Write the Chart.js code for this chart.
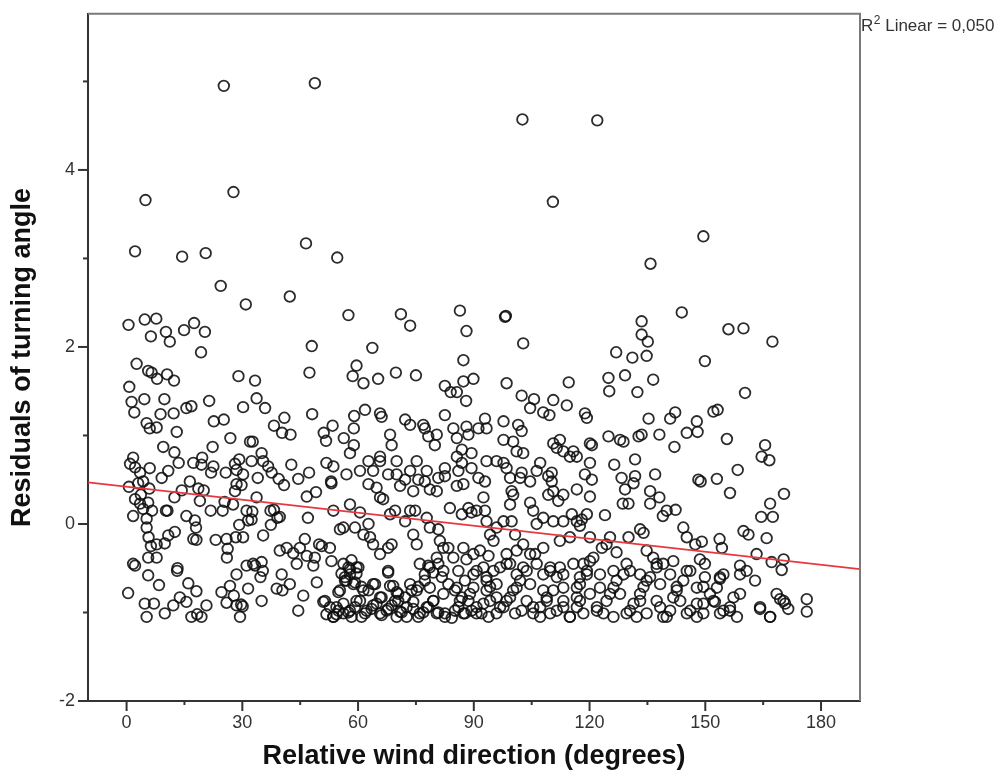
<!DOCTYPE html>
<html><head><meta charset="utf-8">
<script src="https://cdn.jsdelivr.net/npm/chart.js@4.4.1/dist/chart.umd.min.js"></script>
<style>html,body{margin:0;padding:0;background:#fff;}#wrap{width:1000px;height:778px;}</style>
</head><body><div id="wrap"><canvas id="c" width="1000" height="778"></canvas></div>
<script>
const xTickLabels = ['0','30','60','90','120','150','180'];
const yTickLabels = ['-2','0','2','4'];
const xAxisTitle = 'Relative wind direction (degrees)';
const yAxisTitle = 'Residuals of turning angle';
const fitLabelParts = ['R', '2', ' Linear = 0,050'];
const fitX = [-10, 190.1];
const fitY = [0.47, -0.51];

const outliers = [[25.2,4.95],[48.8,4.98],[4.9,3.66],[27.7,3.75],[2.2,3.08],[14.4,3.02],[20.5,3.06],[46.5,3.17],[54.6,3.01],[24.4,2.69],[42.3,2.57],[30.9,2.48],[102.6,4.57],[122.0,4.56],[110.5,3.64],[149.5,3.25],[135.8,2.94]];

const groupA = [[0.5,2.25],[4.7,2.31],[7.7,2.32],[6.3,2.12],[10.2,2.17],[11.2,2.06],[14.9,2.19],[17.5,2.27],[20.3,2.17],[19.3,1.94],[48.0,2.01],[47.4,1.71],
[2.6,1.81],[5.6,1.73],[6.5,1.71],[7.9,1.64],[10.5,1.69],[12.3,1.62],[0.7,1.55],[1.3,1.38],[4.6,1.41],[2.0,1.26],[9.8,1.41],[8.8,1.24],[12.2,1.25],[5.2,1.14],[6.0,1.08],[7.8,1.09],[13.0,1.04],[15.5,1.31],[16.8,1.33],[21.4,1.39],[22.6,1.16],[25.2,1.18],[29.0,1.67],[33.3,1.62],[33.7,1.42],[30.2,1.32],[35.9,1.31],[38.2,1.11],[40.9,1.20],[40.3,1.03],[42.5,1.01],[48.1,1.24],[51.1,1.03],[51.7,0.94],[53.4,1.11],[26.9,0.97],[32.0,0.93],[32.7,0.93],[22.3,0.87],[9.5,0.87],[12.4,0.81],[13.5,0.69],[1.7,0.75],[0.9,0.68],[2.2,0.64],[3.5,0.58],[6.0,0.63],[9.1,0.52],[10.8,0.60],[17.3,0.69],[19.6,0.75],[19.4,0.67],[21.9,0.58],[22.5,0.65],[25.7,0.58],[28.1,0.68],[28.5,0.61],[29.2,0.73],[30.2,0.56],[32.4,0.71],[35.0,0.80],[35.4,0.71],[34.0,0.52],[36.7,0.65],[37.6,0.58],[39.4,0.51],[40.8,0.44],[42.7,0.67],[44.5,0.51],[47.3,0.58],[51.8,0.69],[53.0,0.48],[53.1,0.46],
[0.6,0.42],[3.0,0.46],[4.3,0.48],[5.9,0.40],[3.7,0.33],[2.2,0.28],[3.5,0.23],[5.6,0.24],[1.7,0.09],[6.6,0.15],[4.3,0.17],[5.2,0.06],[5.2,-0.04],[5.7,-0.15],[6.3,-0.25],[7.8,-0.23],[9.9,-0.22],[10.8,-0.13],[12.5,-0.09],[7.8,-0.38],[5.6,-0.38],
[12.4,0.30],[14.3,0.38],[16.4,0.48],[18.6,0.40],[20.0,0.38],[19.0,0.26],[15.5,0.09],[17.7,0.04],[18.0,-0.04],[17.3,-0.17],[18.1,-0.18],[10.2,0.15],[10.6,0.15],[21.8,0.15],[24.9,0.15],[25.4,0.25],[27.6,0.22],[28.1,0.37],[28.5,0.45],[29.8,0.44],[31.1,0.15],[32.6,0.14],[31.5,0.04],[29.2,-0.01],[28.3,-0.15],[30.2,-0.15],[25.9,-0.17],[26.2,-0.28],[23.1,-0.18],[26.0,-0.38],[32.4,0.05],[35.4,-0.13],[37.4,-0.01],[38.2,0.16],[39.1,0.07],[39.7,0.08],[33.7,0.30],[37.3,0.15],[46.7,0.31],[49.1,0.36],[47.0,0.07],[53.6,0.15],[55.3,-0.06],
[1.7,-0.45],[2.2,-0.47],[5.6,-0.58],[8.4,-0.69],[13.2,-0.50],[13.1,-0.53],[0.4,-0.78],[4.7,-0.90],[7.1,-0.90],[5.2,-1.05],[9.9,-1.01],[12.1,-0.92],[13.8,-0.83],[15.5,-0.88],[16.0,-0.67],[18.1,-0.76],[18.3,-1.02],[19.4,-1.05],[16.8,-1.05],[20.7,-0.92],[24.6,-0.77],[26.8,-0.70],[27.8,-0.81],[25.9,-0.89],[28.5,-0.92],[29.7,-0.91],[29.4,-1.05],[30.1,-0.93],[28.5,-0.57],[31.1,-0.47],[32.8,-0.45],[33.3,-0.47],[35.0,-0.43],[35.3,-0.53],[34.7,-0.60],[35.0,-0.87],[31.5,-0.73],[38.9,-0.73],[40.4,-0.75],[42.3,-0.68],[40.2,-0.57],[39.7,-0.30],[41.5,-0.27],[43.2,-0.33],[44.9,-0.27],[46.2,-0.17],[44.1,-0.45],[46.7,-0.36],[48.4,-0.47],[48.8,-0.38],[49.3,-0.66],[49.9,-0.23],[50.6,-0.25],[52.7,-0.27],[53.1,-0.42],[45.8,-0.81],[44.5,-0.98],[51.0,-0.88],[51.8,-1.02],[53.6,-1.05],[54.4,-1.02],[54.9,-0.77]];

const groupB = [[57.5,2.36],[71.1,2.37],[73.5,2.24],[86.4,2.41],[88.1,2.18],[98.1,2.34],[98.3,2.35],[102.8,2.04],[63.7,1.99],[87.3,1.85],[59.6,1.79],[58.6,1.67],[61.4,1.59],[65.2,1.64],[69.8,1.71],[75.0,1.68],[82.5,1.56],[84.0,1.49],[85.6,1.49],[87.3,1.61],[89.9,1.64],[88.0,1.39],[98.5,1.59],[102.4,1.45],[105.6,1.41],[104.6,1.31],[108.0,1.26],[109.6,1.23],[110.6,1.40],[114.1,1.34],[114.6,1.60],
[59.0,1.22],[61.8,1.29],[65.7,1.25],[66.1,1.21],[58.9,1.08],[58.9,0.89],[57.9,0.80],[56.3,0.97],[72.2,1.18],[73.5,1.12],[76.9,1.12],[77.3,1.08],[78.2,0.99],[80.4,1.01],[79.9,0.89],[68.3,1.01],[68.7,0.89],[82.5,1.23],[84.7,1.08],[85.6,0.97],[88.1,1.10],[88.6,1.01],[91.2,1.08],[92.9,1.19],[93.3,1.08],[97.7,1.16],[101.5,1.12],[102.4,1.05],[100.2,0.93],[101.1,0.82],[97.7,0.95],[102.8,0.80],[110.6,0.91],[112.3,0.95],[111.5,0.86],[113.2,0.82],[115.8,0.82],[114.9,0.76],[116.7,0.76],
[53.6,0.65],[57.0,0.56],[60.5,0.60],[62.7,0.71],[65.7,0.76],[65.7,0.71],[63.9,0.60],[62.7,0.45],[64.8,0.41],[65.7,0.30],[66.5,0.28],[67.8,0.56],[70.0,0.71],[70.0,0.56],[70.9,0.43],[72.2,0.50],[73.5,0.60],[75.2,0.71],[75.6,0.50],[74.3,0.37],[77.3,0.48],[77.8,0.60],[78.6,0.39],[80.4,0.37],[80.8,0.52],[82.5,0.63],[82.5,0.54],[85.6,0.76],[86.9,0.84],[86.0,0.60],[86.9,0.69],[85.6,0.43],[87.3,0.45],[89.4,0.80],[89.4,0.63],[91.2,0.52],[93.3,0.71],[92.9,0.48],[95.9,0.71],[97.7,0.69],[98.5,0.63],[99.4,0.52],[99.8,0.37],[100.2,0.33],[102.4,0.58],[102.0,0.52],[104.6,0.48],[107.2,0.69],[106.3,0.60],[109.3,0.54],[110.2,0.58],[110.2,0.48],[110.6,0.37],[109.3,0.33],[111.9,0.26],[113.2,0.33],[116.7,0.39],[118.8,0.56],[104.6,0.24],[99.4,0.22],
[57.9,0.22],[60.5,0.13],[56.2,-0.04],[59.2,-0.04],[61.4,-0.12],[62.7,0.00],[63.1,-0.15],[63.9,-0.23],[65.7,-0.34],[67.8,-0.27],[68.7,-0.23],[68.3,0.11],[69.6,0.15],[72.2,0.03],[73.5,0.15],[74.8,0.15],[75.2,-0.23],[74.3,-0.12],[77.8,0.07],[78.6,-0.04],[80.8,-0.06],[81.2,-0.19],[82.1,-0.27],[83.8,0.18],[86.9,0.11],[88.6,0.18],[89.4,0.13],[90.7,0.15],[92.5,0.30],[92.9,0.15],[93.3,0.03],[94.2,-0.12],[95.9,-0.04],[97.7,0.03],[99.8,0.03],[100.7,-0.12],[95.1,-0.19],[102.8,-0.23],[105.4,0.15],[106.3,0.00],[108.0,0.07],[110.6,0.03],[113.2,0.03],[115.4,0.11],[116.7,0.03],[118.0,0.05],[114.9,-0.15],[112.3,-0.19],[108.0,-0.27],[105.9,-0.34],
[56.2,-0.45],[57.5,-0.49],[57.9,-0.57],[56.6,-0.60],[59.6,-0.49],[55.3,-0.75],[57.0,-0.64],[58.8,-0.68],[61.4,-0.75],[63.9,-0.68],[65.7,-0.83],[67.8,-0.53],[68.3,-0.70],[70.0,-0.77],[70.4,-0.87],[73.5,-0.68],[76.0,-0.45],[77.3,-0.57],[78.6,-0.49],[80.4,-0.38],[82.1,-0.53],[83.4,-0.27],[84.7,-0.38],[86.0,-0.53],[87.3,-0.27],[88.1,-0.40],[89.9,-0.57],[92.5,-0.49],[93.3,-0.64],[95.1,-0.53],[96.8,-0.49],[98.5,-0.34],[99.4,-0.45],[101.1,-0.57],[102.8,-0.49],[104.6,-0.34],[106.3,-0.45],[108.0,-0.57],[109.8,-0.53],[112.3,-0.49],[113.2,-0.57],[115.8,-0.45],[117.5,-0.60],[118.4,-0.45],
[54.4,-0.94],[56.2,-1.01],[57.9,-0.98],[59.6,-0.87],[60.9,-1.05],[62.2,-0.98],[63.9,-0.92],[65.7,-1.01],[67.8,-0.96],[69.6,-0.87],[70.9,-0.99],[72.6,-1.05],[74.3,-0.96],[76.0,-1.01],[77.8,-0.94],[79.5,-0.87],[80.4,-1.01],[82.5,-1.01],[85.1,-0.98],[86.4,-0.87],[87.3,-1.01],[89.0,-0.79],[90.7,-0.94],[92.0,-1.01],[93.3,-0.75],[94.2,-0.87],[95.9,-1.01],[97.7,-0.94],[99.4,-0.83],[100.7,-1.01],[102.4,-0.98],[103.7,-0.87],[105.4,-1.01],[107.2,-0.94],[108.9,-0.83],[109.8,-1.01],[111.5,-0.98],[113.2,-0.87],[114.9,-1.05],[116.7,-0.94],[118.4,-1.01],[75.2,-0.75],[78.6,-0.72],[82.1,-0.79],[85.6,-0.72],[89.9,-0.72],[95.9,-0.68],[101.1,-0.72],[104.6,-0.68],[108.0,-0.75],[113.2,-0.72],[116.7,-0.72]];

const groupC = [[143.9,2.39],[133.5,2.29],[133.5,2.14],[135.1,2.06],[156.0,2.20],[159.9,2.21],[167.4,2.06],[126.9,1.94],[131.1,1.88],[134.8,1.90],[149.9,1.84],[124.9,1.65],[129.2,1.68],[125.1,1.50],[132.4,1.49],[136.5,1.63],[160.3,1.48],[118.8,1.25],[119.3,1.20],[135.3,1.19],[140.9,1.19],[142.2,1.26],[152.1,1.27],[153.2,1.29],[147.8,1.16],[145.2,1.03],[148.0,1.04],[138.1,1.01],[142.0,0.87],[155.6,0.96],[120.1,0.91],[120.6,0.89],[124.9,0.99],[127.9,0.95],[128.8,0.93],[132.7,0.99],[133.5,1.01],[165.5,0.89],[164.6,0.76],[166.6,0.72],[120.1,0.69],[126.4,0.67],[131.8,0.73],[120.6,0.50],[128.3,0.52],[129.2,0.39],[131.4,0.46],[131.8,0.54],[137.0,0.56],[148.2,0.50],[148.8,0.48],[153.0,0.51],[158.4,0.61],[156.4,0.35],[170.4,0.34],[120.1,0.31],[119.3,0.11],[124.0,0.10],[128.6,0.23],[130.1,0.23],[135.7,0.37],[135.7,0.23],[138.1,0.30],[139.0,0.09],[140.0,0.15],[142.3,0.16],[166.8,0.23],[164.5,0.08],[167.5,0.08],[117.5,-0.02],[120.1,-0.15],[125.3,-0.15],[130.1,-0.15],[133.1,-0.06],[134.0,-0.10],[144.3,-0.04],[145.2,-0.15],[147.4,-0.23],[149.1,-0.20],[153.7,-0.17],[154.3,-0.27],[159.9,-0.08],[161.2,-0.12],[165.9,-0.16],[121.0,-0.38],[123.2,-0.27],[124.4,-0.23],[127.0,-0.32],[134.8,-0.30],[136.5,-0.38],[139.1,-0.45],[141.7,-0.42],[148.6,-0.40],[149.9,-0.45],[163.3,-0.34],[167.2,-0.43],[170.3,-0.40],[169.8,-0.52],[159.0,-0.47],[159.0,-0.57],[162.9,-0.64],[160.7,-0.53],[154.7,-0.57],[153.8,-0.62],[149.9,-0.60],[146.1,-0.53],[140.9,-0.57],[137.4,-0.49],[133.1,-0.57],[130.5,-0.53],[126.2,-0.53],[122.7,-0.57],[119.3,-0.53],
[117.5,-0.87],[120.1,-0.79],[121.9,-0.98],[124.4,-0.87],[126.2,-1.05],[127.9,-0.79],[129.6,-1.01],[131.4,-0.90],[133.1,-0.79],[134.8,-1.01],[137.4,-0.87],[139.1,-1.05],[140.9,-0.98],[143.5,-0.87],[145.2,-1.01],[147.8,-0.90],[149.5,-1.01],[152.1,-0.87],[153.8,-1.01],[156.4,-0.98],[159.0,-0.79],[164.2,-0.96],[166.8,-1.05],[168.5,-0.79],[170.3,-0.87],[171.5,-0.96],[176.3,-0.85],[176.3,-0.99],[134.8,-0.64],[138.3,-0.68],[142.6,-0.75],[147.8,-0.72],[153.0,-0.72],[126.2,-0.72],[122.7,-0.72]];

const bandA = [[51.4,-0.87],[52.7,-0.94],[53.6,-1.05],[54.9,-0.98],[56.2,-0.90],[57.5,-1.00],[58.3,-1.05],[59.2,-0.94],[60.5,-0.87],[61.8,-1.01],[63.5,-0.96],[64.8,-0.90],[66.1,-1.03],[67.4,-0.98],[68.7,-0.92],[70.0,-1.05],[71.3,-1.00],[72.6,-0.94],[74.3,-0.88],[75.6,-1.05],[76.9,-1.00],[78.2,-0.94],[79.5,-0.87],[80.8,-1.00],[82.5,-1.05],[84.3,-1.06],[86.0,-0.94],[87.7,-1.01],[89.4,-0.98],[55.7,-0.56],[56.6,-0.64],[57.9,-0.51],[58.3,-0.41],[59.2,-0.66],[60.1,-0.49],[59.6,-0.56],[60.9,-0.71],[62.7,-0.75],[64.4,-0.68],[66.1,-0.83],[67.8,-0.55],[69.1,-0.70],[70.4,-0.79],[72.2,-0.83],[73.9,-0.75],[75.6,-0.71],[77.3,-0.64],[78.2,-0.47],[79.5,-0.55],[80.8,-0.45],[81.7,-0.60],[83.4,-0.68],[85.1,-0.75],[86.9,-0.83],[87.7,-0.64],[88.6,-0.87]];

const bandB = [[89.9,-0.34],[91.6,-0.30],[93.8,-0.36],[90.7,-0.53],[93.3,-0.60],[94.2,-0.71],[95.9,-0.83],[92.5,-0.90],[90.7,-1.01],[93.8,-1.05],[96.8,-0.94],[98.5,-0.87],[100.2,-0.75],[102.0,-0.64],[103.7,-0.53],[98.5,-0.45],[101.1,-0.30],[105.4,-0.94],[107.2,-1.05],[108.9,-0.87],[110.6,-0.75],[111.5,-0.60],[109.8,-0.49],[113.2,-0.94],[114.9,-1.05],[116.7,-0.83],[117.5,-0.68],[119.3,-0.57],[120.1,-0.42],[121.9,-0.94],[123.6,-1.01],[125.3,-0.79],[127.0,-0.64],[128.8,-0.57],[129.6,-0.45],[130.5,-0.98],[132.2,-1.05],[133.1,-0.87],[134.0,-0.71],[135.7,-0.60],[137.4,-0.45],[138.3,-0.94],[140.0,-1.05],[141.7,-0.83],[142.6,-0.71],[144.3,-0.64],[145.2,-0.53],[146.1,-0.98],[147.8,-1.05],[149.5,-0.90],[151.2,-0.79],[152.5,-0.88],[154.7,-0.98],[156.4,-0.94],[158.2,-1.05],[164.2,-0.94],[166.8,-1.05],[169.4,-0.85],[170.7,-0.90],[153.8,-0.60],[157.3,-0.83],[149.5,-0.71]];

const FONT = '"Liberation Sans", Arial, Helvetica, sans-serif';
const points = [].concat(outliers, groupA, groupB, groupC, bandA, bandB).map(p => ({x: p[0], y: p[1]}));
const fitPoints = fitX.map((x, i) => ({x: x, y: fitY[i]}));

const framePlugin = {
  id: 'frame',
  afterDraw(chart) {
    const {ctx, chartArea: a, scales: {x, y}} = chart;
    ctx.save();
    ctx.strokeStyle = '#7a7a7a'; ctx.lineWidth = 2;
    ctx.beginPath(); ctx.moveTo(a.left, a.top); ctx.lineTo(a.right, a.top); ctx.lineTo(a.right, a.bottom); ctx.stroke();
    ctx.strokeStyle = '#333'; ctx.lineWidth = 2;
    x.ticks.forEach(t => {
      const px = x.getPixelForValue(t.value);
      const len = xTickLabels.includes(String(t.value)) ? 10 : 4;
      ctx.beginPath(); ctx.moveTo(px, a.bottom); ctx.lineTo(px, a.bottom + len); ctx.stroke();
    });
    y.ticks.forEach(t => {
      const py = y.getPixelForValue(t.value);
      const len = yTickLabels.includes(String(t.value)) ? 10 : 5;
      ctx.beginPath(); ctx.moveTo(a.left, py); ctx.lineTo(a.left - len, py); ctx.stroke();
    });
    // "R² Linear = 0,050" annotation, with a real superscript 2
    ctx.fillStyle = '#333';
    ctx.textBaseline = 'alphabetic';
    ctx.textAlign = 'left';
    let tx = a.right + 1;
    ctx.font = '17px ' + FONT;
    ctx.fillText(fitLabelParts[0], tx, 31);
    tx += ctx.measureText(fitLabelParts[0]).width + 0.5;
    ctx.font = '12px ' + FONT;
    ctx.fillText(fitLabelParts[1], tx, 24);
    tx += ctx.measureText(fitLabelParts[1]).width;
    ctx.font = '17px ' + FONT;
    ctx.fillText(fitLabelParts[2], tx, 31);
    ctx.restore();
  }
};

new Chart(document.getElementById('c'), {
  type: 'scatter',
  data: {
    datasets: [
      {type: 'line', data: fitPoints, borderColor: '#e8383f', borderWidth: 1.6, pointRadius: 0, fill: false, order: 0},
      {data: points, pointStyle: 'circle', pointRadius: 5.3, pointHoverRadius: 5.3, pointBorderWidth: 1.8,
       pointBackgroundColor: 'rgba(0,0,0,0)', pointBorderColor: 'rgba(15,15,15,0.88)', order: 1}
    ]
  },
  options: {
    responsive: false, animation: false, events: [],
    layout: {padding: {left: 0, top: 10, right: 140, bottom: 0}},
    plugins: {legend: {display: false}, tooltip: {enabled: false}},
    scales: {
      x: {
        type: 'linear', position: 'bottom', min: -10, max: 190.1,
        afterFit: s => { s.height = 77; },
        ticks: {stepSize: 15, autoSkip: false, maxRotation: 0, includeBounds: false, padding: 1, color: '#333',
                font: {family: FONT, size: 18},
                callback: v => xTickLabels.includes(String(v)) ? String(v) : ''},
        grid: {display: true, drawOnChartArea: false, drawTicks: true, tickLength: 10, color: 'rgba(0,0,0,0)'},
        border: {display: true, color: '#333', width: 2},
        title: {display: true, text: xAxisTitle, color: '#111', font: {family: FONT, size: 27, weight: 'bold', lineHeight: 1.2}, padding: {top: 0, bottom: 5}}
      },
      y: {
        type: 'linear', position: 'left', min: -2, max: 5.764,
        afterFit: s => { s.width = 88; },
        ticks: {stepSize: 1, autoSkip: false, includeBounds: false, padding: 3, color: '#333',
                font: {family: FONT, size: 18},
                callback: v => yTickLabels.includes(String(v)) ? String(v) : ''},
        grid: {display: true, drawOnChartArea: false, drawTicks: true, tickLength: 10, color: 'rgba(0,0,0,0)'},
        border: {display: true, color: '#333', width: 2},
        title: {display: true, text: yAxisTitle, color: '#111', font: {family: FONT, size: 27, weight: 'bold', lineHeight: 1.2}, padding: {top: 6, bottom: 0}}
      }
    }
  },
  plugins: [framePlugin]
});
</script>
</body></html>
